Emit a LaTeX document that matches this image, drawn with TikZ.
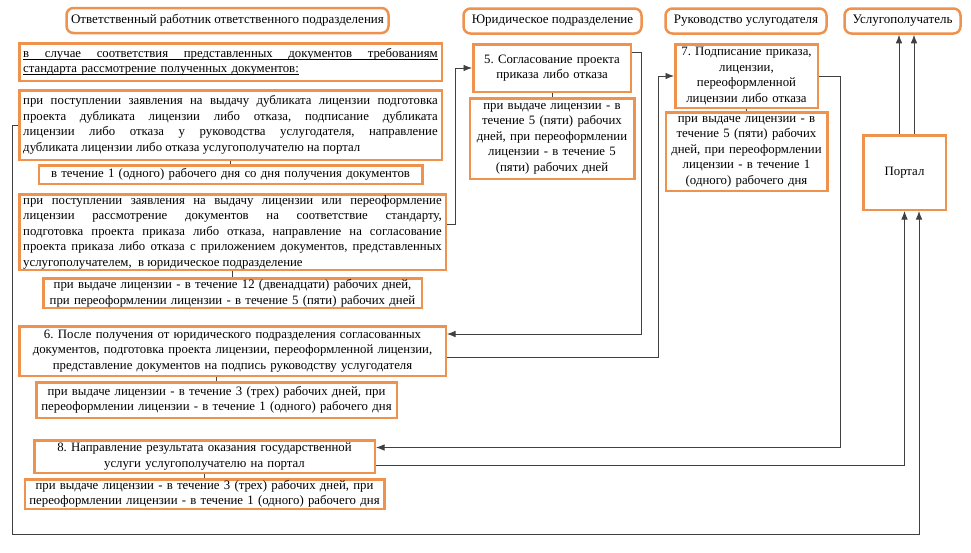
\documentclass[tikz,border=0pt]{standalone}
\usepackage{fontspec}
\setmainfont{Liberation Serif}
\usepackage{tikz}
\usetikzlibrary{positioning, arrows.meta}
\definecolor{orng}{RGB}{238,146,78}
\frenchspacing
\newcommand\ulwords[1]{\strut\underline{\smash{#1}}}

\begin{document}
\begin{tikzpicture}[x=1pt, y=-1pt,
    head/.style={draw=orng, line width=2.5pt, rounded corners=7pt, minimum height=25pt, inner sep=0pt, font=\fontsize{13}{15}\selectfont},
    box/.style={draw=orng, line width=2.5pt, fill=white, inner xsep=4pt, inner ysep=1pt, font=\fontsize{12.8}{15.5}\selectfont},
    line/.style={draw=black!75, line width=0.8pt},
    arr/.style={line, -{Latex[length=8.5pt,width=6.5pt]}}]
      \useasboundingbox (0,0) rectangle (971,552);
      \node[head, minimum width=322pt] (H1) at (227.5,20.5) {Ответственный работник ответственного подразделения};
      \node[head, minimum width=178pt] (H2) at (552.5,21) {Юридическое подразделение};
      \node[head, minimum width=161pt] (H3) at (746,21) {Руководство услугодателя};
      \node[head, minimum width=116pt] (H4) at (902.5,21) {Услугополучатель};
      \node[box, text width=414.5pt, align=left, minimum height=37.5pt, anchor=north west] (A) at (18,42) {\ulwords{\hbox to 414.5pt{в\hfill случае\hfill соответствия\hfill представленных\hfill документов\hfill требованиям}}\\ \ulwords{стандарта рассмотрение полученных документов:}};
      \node[box, text width=414.5pt, align=justify, minimum height=69.5pt, below=7pt of A.south west, anchor=north west] (B) {при поступлении заявления на выдачу дубликата лицензии подготовка\linebreak проекта дубликата лицензии либо отказа, подписание дубликата\linebreak лицензии либо отказа у руководства услугодателя, направление\linebreak дубликата лицензии либо отказа услугополучателю на портал};
      \node[box, text width=375.5pt, align=center, minimum height=18.5pt, below=3pt of B] (B1) {в течение 1 (одного) рабочего дня со дня получения документов};
      \node[box, text width=418.5pt, align=justify, minimum height=73.5pt, anchor=north west] (C) at (18,193) {при поступлении заявления на выдачу лицензии или переоформление\linebreak лицензии рассмотрение документов на соответствие стандарту,\linebreak подготовка проекта приказа либо отказа, направление на согласование\linebreak проекта приказа либо отказа с приложением документов, представленных\linebreak услугополучателем,\ \ в юридическое подразделение};
      \node[box, text width=370.5pt, align=center, minimum height=29.5pt, below=6pt of C] (C1) {при выдаче лицензии - в течение 12 (двенадцати) рабочих дней,\\ при переоформлении лицензии - в течение 5 (пяти) рабочих дней};
      \node[box, text width=418.5pt, align=center, minimum height=49.5pt, anchor=north west] (D) at (18,325) {6. После получения от юридического подразделения согласованных\\ документов, подготовка проекта лицензии, переоформленной лицензии,\\ представление документов на подпись руководству услугодателя};
      \node[box, text width=352.5pt, align=center, minimum height=35.5pt, below=4pt of D, xshift=-16pt] (D1) {при выдаче лицензии - в течение 3 (трех) рабочих дней, при\\ переоформлении лицензии - в течение 1 (одного) рабочего дня};
      \node[box, text width=332.5pt, align=center, minimum height=32.5pt, anchor=north west] (E) at (33,439) {8. Направление результата оказания государственной\\ услуги услугополучателю на портал};
      \node[box, text width=351.5pt, align=center, minimum height=29.5pt, below=4pt of E] (E1) {при выдаче лицензии - в течение 3 (трех) рабочих дней, при\\ переоформлении лицензии - в течение 1 (одного) рабочего дня};
      \node[box, text width=149.5pt, align=center, minimum height=47.5pt] (F) at (552,68) {5. Согласование проекта\\ приказа либо отказа};
      \node[box, text width=156.5pt, align=center, minimum height=80.5pt, below=4pt of F] (F1) {при выдаче лицензии - в\\ течение 5 (пяти) рабочих\\ дней, при переоформлении\\ лицензии - в течение 5\\ (пяти) рабочих дней};
      \node[box, text width=134.5pt, align=center, minimum height=63.5pt] (G) at (746.5,76) {7. Подписание приказа,\\ лицензии,\\ переоформленной\\ лицензии либо отказа};
      \node[box, text width=153.5pt, align=center, minimum height=78.5pt, below=2pt of G] (G1) {при выдаче лицензии - в\\ течение 5 (пяти) рабочих\\ дней, при переоформлении\\ лицензии - в течение 1\\ (одного) рабочего дня};
      \node[box, minimum width=82.5pt, minimum height=74.5pt] (P) at (904.5,172.5) {Портал};
      \coordinate (L) at (12,534);
      \draw[line] (B1.north) -- (B1.north |- B.south);
      \draw[line] (C1.north) -- (C1.north |- C.south);
      \draw[line] (D1.north) -- (D1.north |- D.south);
      \draw[line] (E1.north) -- (E1.north |- E.south);
      \draw[line] (F1.north) -- (F1.north |- F.south);
      \draw[line] (G1.north) -- (G1.north |- G.south);
      \draw[arr] (B.west) -| (L) -| ([xshift=14.5pt]P.south);
      \draw[arr] ([yshift=8pt]C.east) -- ++(8,0) |- (F.west);
      \draw[arr] ([yshift=-9pt]F.north east) -- ++(9,0) |- ([yshift=-9pt]D.north east);
      \draw[arr] ([yshift=-6pt]D.east) -- ++(211,0) |- (G.west);
      \draw[arr] (G.east) -- ++(21,0) |- ([yshift=9pt]E.east);
      \draw[arr] ([yshift=-9pt]E.east) -| (P.south);
      \draw[arr] ([xshift=-5.5pt]P.north) -- ([xshift=-5.5pt]P.north |- H4.south);
      \draw[arr] ([xshift=9.5pt]P.north) -- ([xshift=9.5pt]P.north |- H4.south);
    \end{tikzpicture}
\end{document}
